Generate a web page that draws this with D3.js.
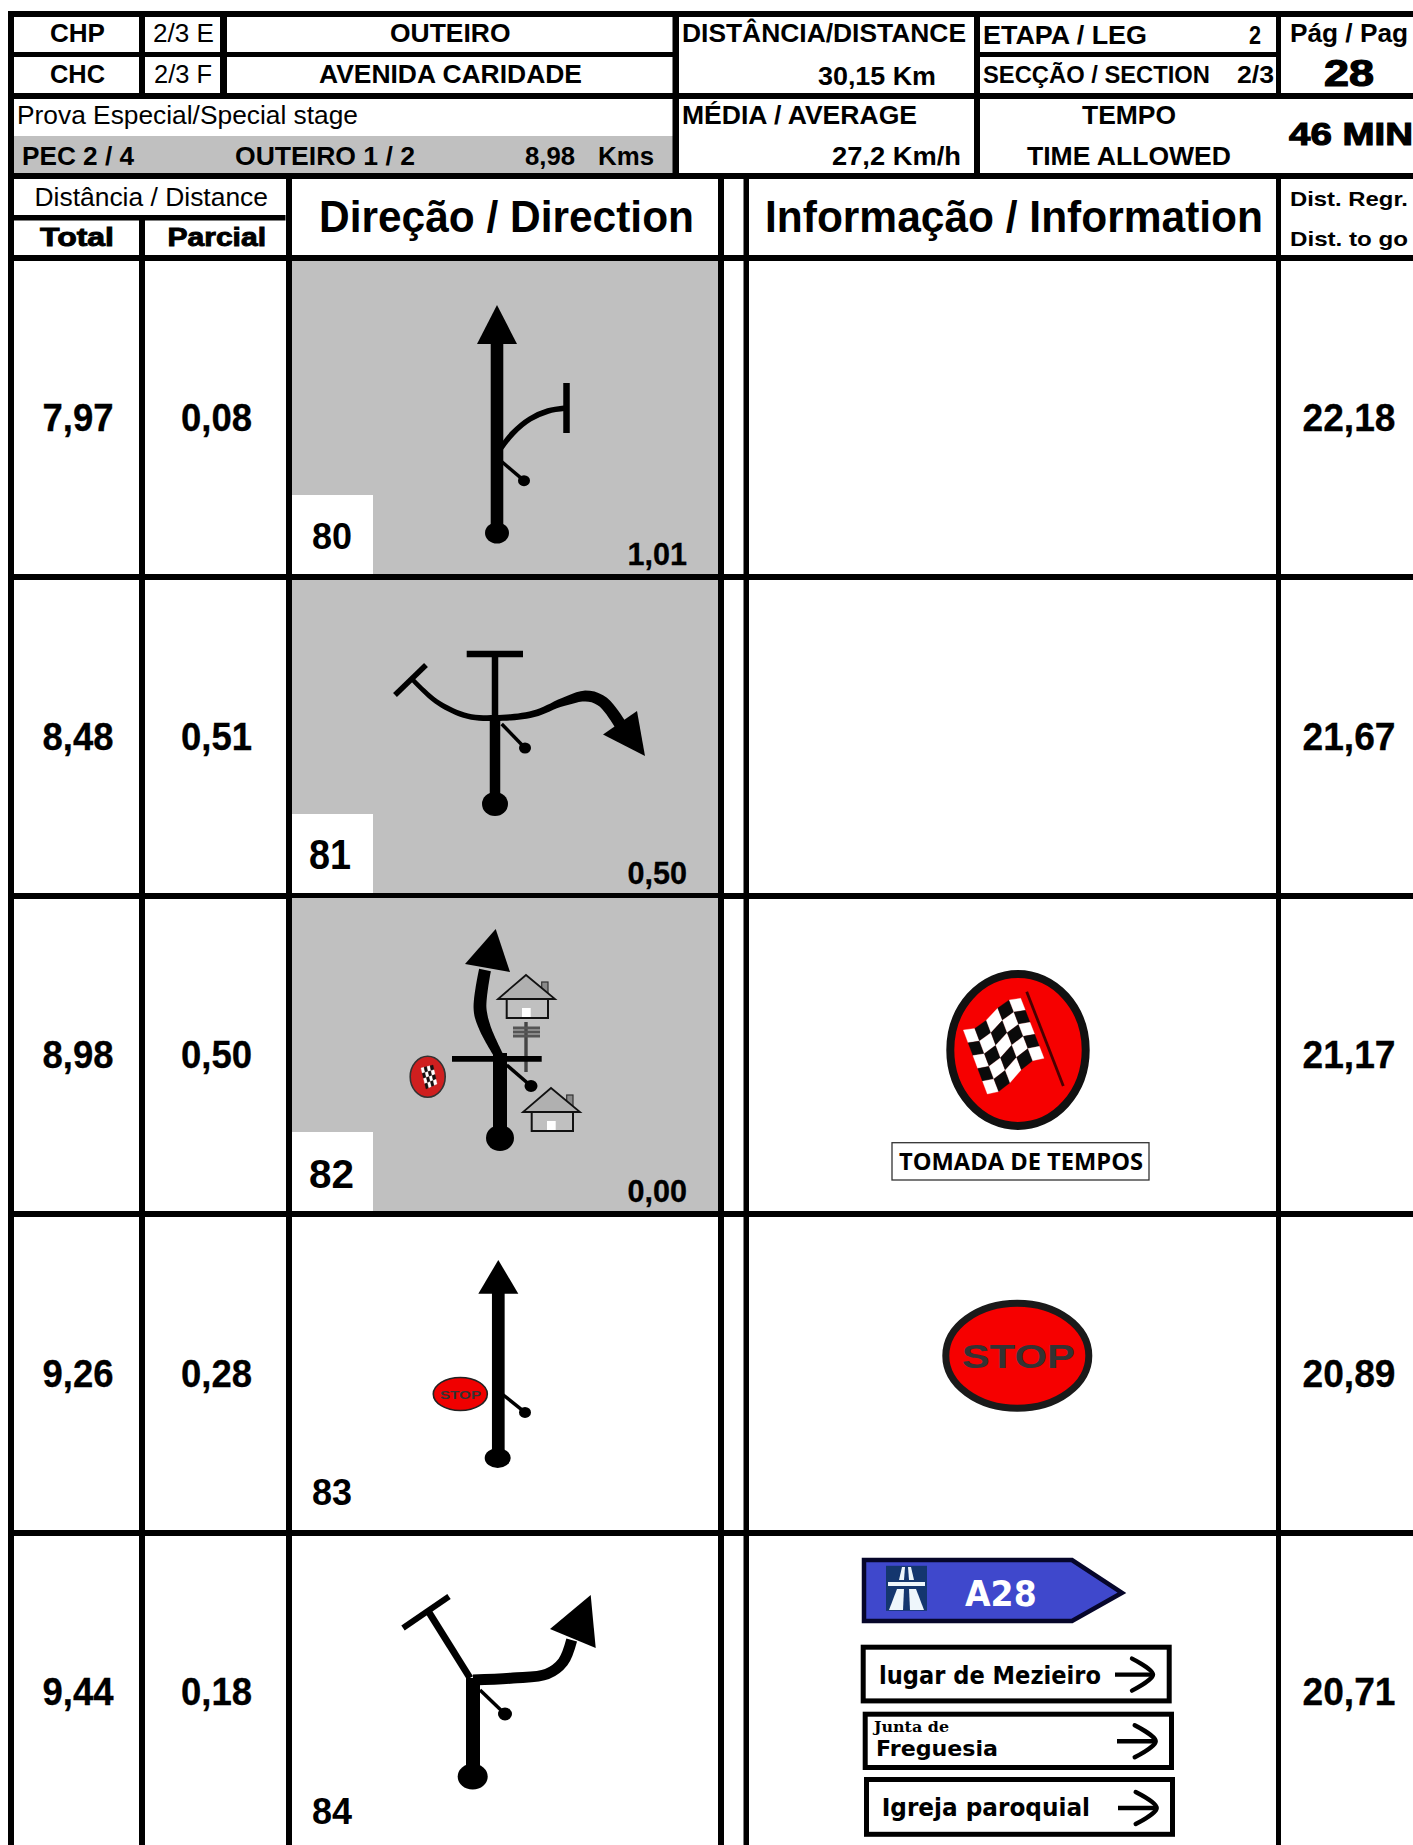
<!DOCTYPE html>
<html lang="en">
<head>
	<meta charset="UTF-8">
	<title>Roadbook 28</title>
	<script src="https://cdn.jsdelivr.net/npm/d3@7/dist/d3.min.js"></script>
	<style>
		html,body{margin:0;padding:0;background:#fff;overflow:hidden;}
		svg{display:block;}
		text{font-family:"Liberation Sans",Arial,sans-serif;fill:#000;}
	</style>
</head>
<body>
	<svg id="svg" width="1413" height="1845"></svg>
	<script>
		// values
		var wpNumbers = ["80","81","82","83","84"];
		var totals = ["7,97","8,48","8,98","9,26","9,44"];
		var partials = ["0,08","0,51","0,50","0,28","0,18"];
		var toGo = ["22,18","21,67","21,17","20,89","20,71"];
		var toEnd = ["1,01","0,50","0,00",null,null];
		var columns = ["total","parcial","dir","gap","info","regr"];

		var svg = d3.select("#svg");
		var line = d3.line().curve(d3.curveCatmullRom.alpha(0.5));
		var poly = d3.line().curve(d3.curveLinearClosed);

		var yRow = d3.scaleBand().domain(d3.range(wpNumbers.length)).range([261,261+318.6*wpNumbers.length]);
		var xCol = d3.scaleOrdinal().domain(columns).range([78,216.5,505,733.5,1012.5,1349]);

		function rect(g,x0,y0,x1,y1,fill){
			return g.append("rect").attr("x",x0).attr("y",y0)
				.attr("width",x1-x0).attr("height",y1-y0).attr("fill",fill||"#000");
		}
		// text fitted to the width it has in the picture
		function txt(g,s,x0,x1,base,size,weight,heavy){
			var t = g.append("text").text(s).attr("x",x0).attr("y",base)
				.attr("font-size",size).attr("font-weight",weight||"bold")
				.attr("textLength",x1-x0).attr("lengthAdjust","spacingAndGlyphs");
			if(heavy) t.attr("stroke","#000").attr("stroke-width",heavy);
			return t;
		}
		function path(g,pts,w){
			return g.append("path").attr("d",line(pts)).attr("fill","none")
				.attr("stroke","#000").attr("stroke-width",w);
		}
		function seg(g,x0,y0,x1,y1,w){
			return path(g,[[x0,y0],[x1,y1]],w);
		}
		function head(g,pts){
			return g.append("path").attr("d",poly(pts)).attr("fill","#000");
		}
		function dot(g,cx,cy,rx,ry){
			return g.append("ellipse").attr("cx",cx).attr("cy",cy).attr("rx",rx).attr("ry",ry).attr("fill","#000");
		}
		function tick(g,x0,y0,x1,y1,r){
			seg(g,x0,y0,x1,y1,3.5);
			dot(g,x1,y1,r,r-0.5);
		}
		// road whose width changes along its length
		function ribbon(g,pts,width){
			var p = path(g,pts,0), node = p.node(), len = node.getTotalLength();
			var left = [], right = [];
			d3.range(0,61).forEach(function(k){
				var t = k/60, s = len*t;
				var a = node.getPointAtLength(s), q = node.getPointAtLength(Math.min(len,s+1)), r = node.getPointAtLength(Math.max(0,s-1));
				var dx = q.x-r.x, dy = q.y-r.y, n = Math.sqrt(dx*dx+dy*dy), w = width(t)/2;
				left.push([a.x-dy/n*w,a.y+dx/n*w]);
				right.unshift([a.x+dy/n*w,a.y-dx/n*w]);
			});
			p.attr("d",poly(left.concat(right))).attr("fill","#000").attr("stroke","none");
		}
		function house(g,x,y){
			rect(g,x+15.7,y+7,x+22,y+18,"#8a8a8a").attr("stroke","#333").attr("stroke-width",1.2);
			rect(g,x-19.3,y+24,x+22,y+43,"#c0c0c0").attr("stroke","#111").attr("stroke-width",2);
			head(g,[[x,y],[x-28,y+24],[x+29,y+24]]).attr("fill","#b0b0b0").attr("stroke","#111").attr("stroke-width",1.8);
			rect(g,x-4,y+33,x+4.7,y+42,"#fff");
		}
		function signArrow(g,x0,x1,y){
			path(g,[[x0,y],[x1,y]],4.4);
			path(g,[[x1-21,y-16],[x1,y],[x1-21,y+16]],4.4).attr("stroke-linecap","round");
		}
		function signBox(g,x0,y0,x1,y1){
			rect(g,x0+2.5,y0+2.5,x1-2.5,y1-2.5,"#fff").attr("stroke","#000").attr("stroke-width",5);
		}
		// checkered flag, cells laid out inside a four corner shape with a small wave
		function checker(g,tl,tr,br,bl,n,dark,wave){
			wave = wave||0;
			function at(u,v){
				var tx=tl[0]+(tr[0]-tl[0])*u, ty=tl[1]+(tr[1]-tl[1])*u;
				var bx=bl[0]+(br[0]-bl[0])*u, by=bl[1]+(br[1]-bl[1])*u;
				return [tx+(bx-tx)*v, ty+(by-ty)*v+wave*Math.sin(u*Math.PI*2)];
			}
			d3.range(n).forEach(function(i){
				d3.range(n).forEach(function(j){
					var a=i/n,b=(i+1)/n,c=j/n,e=(j+1)/n;
					head(g,[at(a,c),at(b,c),at(b,e),at(a,e)])
						.attr("fill",(i+j)%2===0?"#fff":dark)
						.attr("stroke",(i+j)%2===0?"#fff":dark).attr("stroke-width",0.3);
				});
			});
		}

		/* ---------- grid ---------- */
		var grid = svg.append("g");
		rect(grid,14,136,673,173,"#c0c0c0");
		// horizontal rules
		rect(grid,8,11,1413,17);
		rect(grid,8,52,673,57);
		rect(grid,980,52,1276,57);
		rect(grid,14,93,679,99);
		rect(grid,679,93,1413,99);
		rect(grid,8,173,1413,179);
		rect(grid,14,215,285.5,220.5);
		rect(grid,8,255,1413,261);
		// vertical rules
		rect(grid,8,11,14,1845);
		rect(grid,139,17,145,93);
		rect(grid,220,17,227,93);
		rect(grid,672.5,17,679,173);
		rect(grid,974,17,980,173);
		rect(grid,1276,17,1281,93);
		rect(grid,139,220,145,1845);
		rect(grid,286,179,292,1845);
		rect(grid,718,179,724,1845);
		rect(grid,743.5,179,749,1845);
		rect(grid,1276,179,1281,1845);

		/* ---------- header text ---------- */
		var hd = svg.append("g");
		txt(hd,"CHP",50,105,42,25);
		txt(hd,"2/3 E",153,214,42,25,"normal");
		txt(hd,"OUTEIRO",390,510.5,42,25);
		txt(hd,"CHC",50,105,83,25);
		txt(hd,"2/3 F",154,212,83,25,"normal");
		txt(hd,"AVENIDA CARIDADE",319,582,83,25);
		txt(hd,"Prova Especial/Special stage",17,358,123.5,25,"normal");
		txt(hd,"PEC 2 / 4",22,134,165,25);
		txt(hd,"OUTEIRO 1 / 2",235,415,165,25);
		txt(hd,"8,98",525,575,165,25);
		txt(hd,"Kms",598,654,165,25);
		txt(hd,"Distância / Distance",34.5,268,205.5,25,"normal");
		txt(hd,"Total",40,114,245.5,25,"bold",0.9);
		txt(hd,"Parcial",167.5,266,245.5,25,"bold",0.9);
		txt(hd,"Direção / Direction",319,694,231.5,43.5);
		txt(hd,"DISTÂNCIA/DISTANCE",682,966,41.7,25);
		txt(hd,"30,15 Km",818,936,85,25);
		txt(hd,"ETAPA / LEG",983,1147,44,25);
		txt(hd,"2",1249,1261,44,25);
		txt(hd,"SECÇÃO / SECTION",983,1210,83,24);
		txt(hd,"2/3",1237,1274,83,24);
		txt(hd,"Pág / Pag",1290,1408,41.7,25);
		txt(hd,"28",1324,1374,86,37,"bold",1.2);
		txt(hd,"MÉDIA / AVERAGE",682,917,124,25);
		txt(hd,"27,2 Km/h",832,961,165,25);
		txt(hd,"TEMPO",1082,1176,124,25);
		txt(hd,"TIME ALLOWED",1027,1231,165,25);
		txt(hd,"46 MIN",1289,1413,145,31,"bold",1.1);
		txt(hd,"Informação / Information",765,1263,231.5,43.5);
		txt(hd,"Dist. Regr.",1290,1408,206,21);
		txt(hd,"Dist. to go",1290,1408,246,21);

		/* ---------- rows ---------- */
		var rows = svg.selectAll(".row").data(wpNumbers).enter().append("g")
			.attr("class","row")
			.attr("transform",function(d,i){return "translate(0,"+Math.round(yRow(i))+")";});

		// waypoint number spots
		var wpBox = [[312,352],[309,351],[309,354],[312,352],[312,352]];
		var wpBase = [288,289,290,288,289];
		var wpSize = [36,42.5,40,36,36];

		rows.each(function(d,i){
			var g = d3.select(this), h = Math.round(yRow.bandwidth());
			if(toEnd[i]!==null){
				rect(g,292,0,718,h-6,"#c0c0c0");
				rect(g,292,h-6-79,373,h-6,"#fff");
			}
			// separator under the row
			rect(g,8,h-6,1413,h);
			txt(g,totals[i],xCol("total")-35.5,xCol("total")+35.5,169.5,39,"bold",0.3);
			txt(g,partials[i],xCol("parcial")-35.5,xCol("parcial")+35.5,169.5,39,"bold",0.3);
			txt(g,toGo[i],xCol("regr")-46.5,xCol("regr")+46.5,169.5,39,"bold",0.3);
			txt(g,d,wpBox[i][0],wpBox[i][1],wpBase[i],wpSize[i]);
			if(toEnd[i]!==null) txt(g,toEnd[i],627.5,687,304,31,"bold",0.3);
		});

		/* ---------- road pictograms ---------- */
		var p0 = rows.filter(function(d,i){return i===0;});
		seg(p0,497,80,497,272,12.6);
		head(p0,[[497,44],[477,83],[517,83]]);
		dot(p0,497,272,12,10.5);
		path(p0,[[501,187],[513,172],[530,158],[548,150],[566,147]],5.5);
		seg(p0,566.5,122,566.5,172,6.5);
		tick(p0,501,200,524,219.7,6);

		var p1 = rows.filter(function(d,i){return i===1;});
		seg(p1,495,74,495,138,6.5);
		seg(p1,495,138,495,224,10.5);
		dot(p1,495,224,13,12);
		seg(p1,466.7,74,523,74,6.5);
		seg(p1,395,115,426,85,5.5);
		ribbon(p1,[[413,100],[437,122],[467,136],[495,138],[533,134],[563,122],[587,116],[603,122],[620,144]],
			d3.scaleLinear().domain([0,0.4,0.65,0.8,1]).range([4.5,6,7,11,12]));
		head(p1,[[645,176],[603,154.6],[637,131]]);
		tick(p1,501.7,144,525,168,6);

		var p2 = rows.filter(function(d,i){return i===2;});
		seg(p2,526,124,526,174,3.4).attr("stroke","#444");
		[130,134,138].forEach(function(y){seg(p2,513,y,540,y,3).attr("stroke","#555");});
		house(p2,526,77);
		house(p2,551,190);
		seg(p2,500,155,500,240,14);
		dot(p2,500,240,14,13);
		seg(p2,452,160.8,541.7,160.8,5.7);
		ribbon(p2,[[499,158],[485,130],[480,110],[485,72]],d3.scaleLinear().domain([0,0.5,1]).range([9,13,12]));
		head(p2,[[495.7,31],[465,66],[510,74]]);
		tick(p2,506.7,167,531,188,6.5);
		p2.append("ellipse").attr("cx",427.7).attr("cy",178.7).attr("rx",17.5).attr("ry",20.5)
			.attr("fill","#cf1f1f").attr("stroke","#333").attr("stroke-width",1.6);
		checker(p2,[421,170],[433,167],[437,186],[426,191],4,"#111");

		var p3 = rows.filter(function(d,i){return i===3;});
		seg(p3,498.3,74,498.3,241,12.7);
		head(p3,[[498.3,43],[478.3,76.7],[518.3,76.7]]);
		dot(p3,497.7,241,13,10);
		tick(p3,502.7,177.5,525,195.4,6);
		p3.append("ellipse").attr("cx",460.3).attr("cy",177).attr("rx",27).attr("ry",16.5)
			.attr("fill","#f00000").attr("stroke","#222").attr("stroke-width",1.6);
		txt(p3,"STOP",440,481,181.5,11.5).style("fill","#333");

		var p4 = rows.filter(function(d,i){return i===4;});
		seg(p4,473,143,473,241,14);
		dot(p4,472.7,241.6,15,13);
		seg(p4,470,143,429,77.4,7);
		seg(p4,403,93,449,61.5,6);
		path(p4,[[473,145],[513,143],[547,139],[563,127],[571.7,105]],11);
		head(p4,[[590.7,60],[550,94],[595.7,113]]);
		tick(p4,480,155,505,179,7);

		/* ---------- information column ---------- */
		var flag = p2.append("g");
		flag.append("ellipse").attr("cx",1018).attr("cy",152).attr("rx",67.7).attr("ry",76)
			.attr("fill","#f60000").attr("stroke","#111").attr("stroke-width",8);
		seg(flag,1026.7,93.7,1063.3,188,2.8).attr("stroke","#4a0000");
		checker(flag,[963.3,132],[1020.7,100.3],[1044,160.3],[987.3,196],5,"#0a0a0a",5);
		rect(p2,892,244.7,1149,282,"#fff").attr("stroke","#333").attr("stroke-width",1.3);
		txt(p2,"TOMADA DE TEMPOS",899,1143,272,24,"700").style("font-family","'Open Sans'");

		p3.append("ellipse").attr("cx",1017.3).attr("cy",138.7).attr("rx",71.5).attr("ry",52.5)
			.attr("fill","#f60000").attr("stroke","#1a1a1a").attr("stroke-width",7);
		txt(p3,"STOP",961.7,1075,151,34).style("fill","#333");

		p4.append("path").attr("d",poly([[864,25],[1072,25],[1122,57.8],[1072,86],[864,86]]))
			.attr("fill","#3f48cc").attr("stroke","#06062a").attr("stroke-width",4.5).attr("stroke-linejoin","miter");
		rect(p4,886,30.8,927,75.8,"#14366e");
		[[[889,75],[903,75],[904,54],[897,54]],[[924,75],[910,75],[909,54],[916,54]],
		 [[899,45],[904,45],[905,32],[902,32]],[[914,45],[909,45],[908,32],[911,32]]].forEach(function(q){
			head(p4,q).attr("fill","#eef6fb");
		});
		rect(p4,888,47,925,51,"#eef6fb");
		txt(p4,"A28",965,1036.7,71,36).style("fill","#fff").style("font-family","'DejaVu Sans'");

		signBox(p4,860.7,109.7,1171.7,168.4);
		signBox(p4,862.7,176.7,1174,235);
		signBox(p4,864,242,1175,301.8);
		txt(p4,"lugar de Mezieiro",879,1101,149.3,25).style("font-family","'DejaVu Sans'");
		txt(p4,"Junta de",874,949,197,14.5).style("font-family","'DejaVu Serif'");
		txt(p4,"Freguesia",876,998,220.7,22).style("font-family","'DejaVu Sans'");
		txt(p4,"Igreja paroquial",881.7,1090,281,25).style("font-family","'DejaVu Sans'");
		signArrow(p4,1115,1153,139.6);
		signArrow(p4,1117,1155.7,206.3);
		signArrow(p4,1118,1156.7,273);
	</script>
</body>
</html>
